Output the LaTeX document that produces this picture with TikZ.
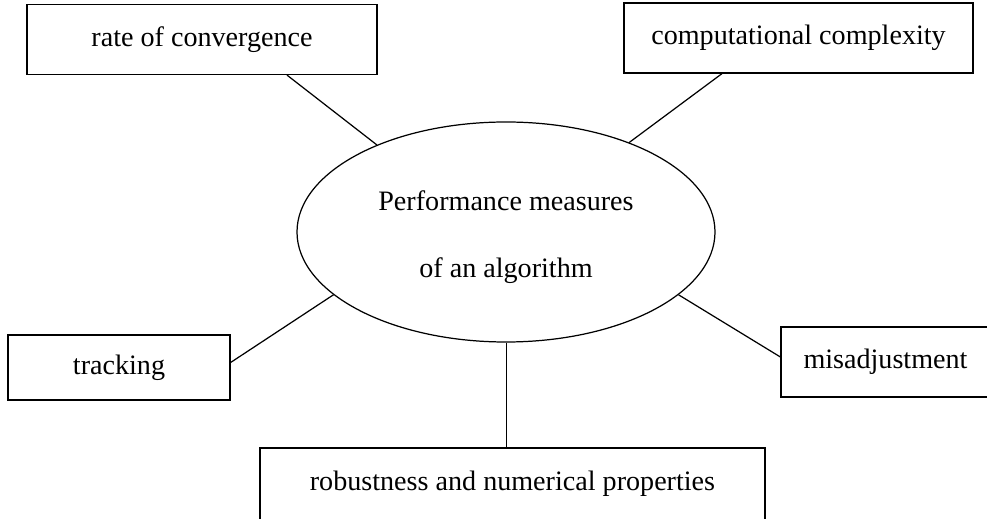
\documentclass[tikz,border=0pt]{standalone}
\usepackage{fontspec}
\setmainfont{Liberation Serif}
\usetikzlibrary{shapes,positioning}

\begin{document}
\begin{tikzpicture}[
  font=\fontsize{16}{19}\selectfont,
  measbox/.style={draw, rectangle, inner sep=0pt, line width=0.7pt, minimum height=1.4cm},
  hub/.style={draw, ellipse, inner sep=0pt, line width=0.7pt, minimum width=8.36cm, minimum height=4.4cm, align=center},
  link/.style={line width=0.7pt}
]
\useasboundingbox (0,0) rectangle (19.74,10.36);

% centre ellipse and the measures around it
\node[hub] (perf) at (10.12,5.72) {\rule{0pt}{17pt}Performance measures\\[19pt]of an algorithm};
\node[measbox, minimum width=7cm] (rate) at (4.04,9.57) {rate of convergence};
\node[measbox, minimum width=6.98cm] (comp) at (15.97,9.6) {computational complexity};
\node[measbox, minimum width=4.44cm, minimum height=1.3cm] (track) at (2.38,3.01) {tracking};
\node[measbox, minimum width=4.18cm] (misadj) at (17.71,3.12) {misadjustment};
\node[measbox, minimum width=10.1cm, minimum height=1.44cm] (robust) at (10.25,0.68) {robustness and numerical properties};

\draw[link] ([xshift=1.7cm]rate.south) -- (perf.146);
\draw[link] ([xshift=-1.53cm]comp.south) -- (perf.36);
\draw[link] ([yshift=0.1cm]track.east) -- (perf.200);
\draw[link] ([yshift=0.1cm]misadj.west) -- (perf.340);
\draw[link, line width=0.4pt] (perf.south) -- (perf.south |- robust.north);
\end{tikzpicture}
\end{document}
